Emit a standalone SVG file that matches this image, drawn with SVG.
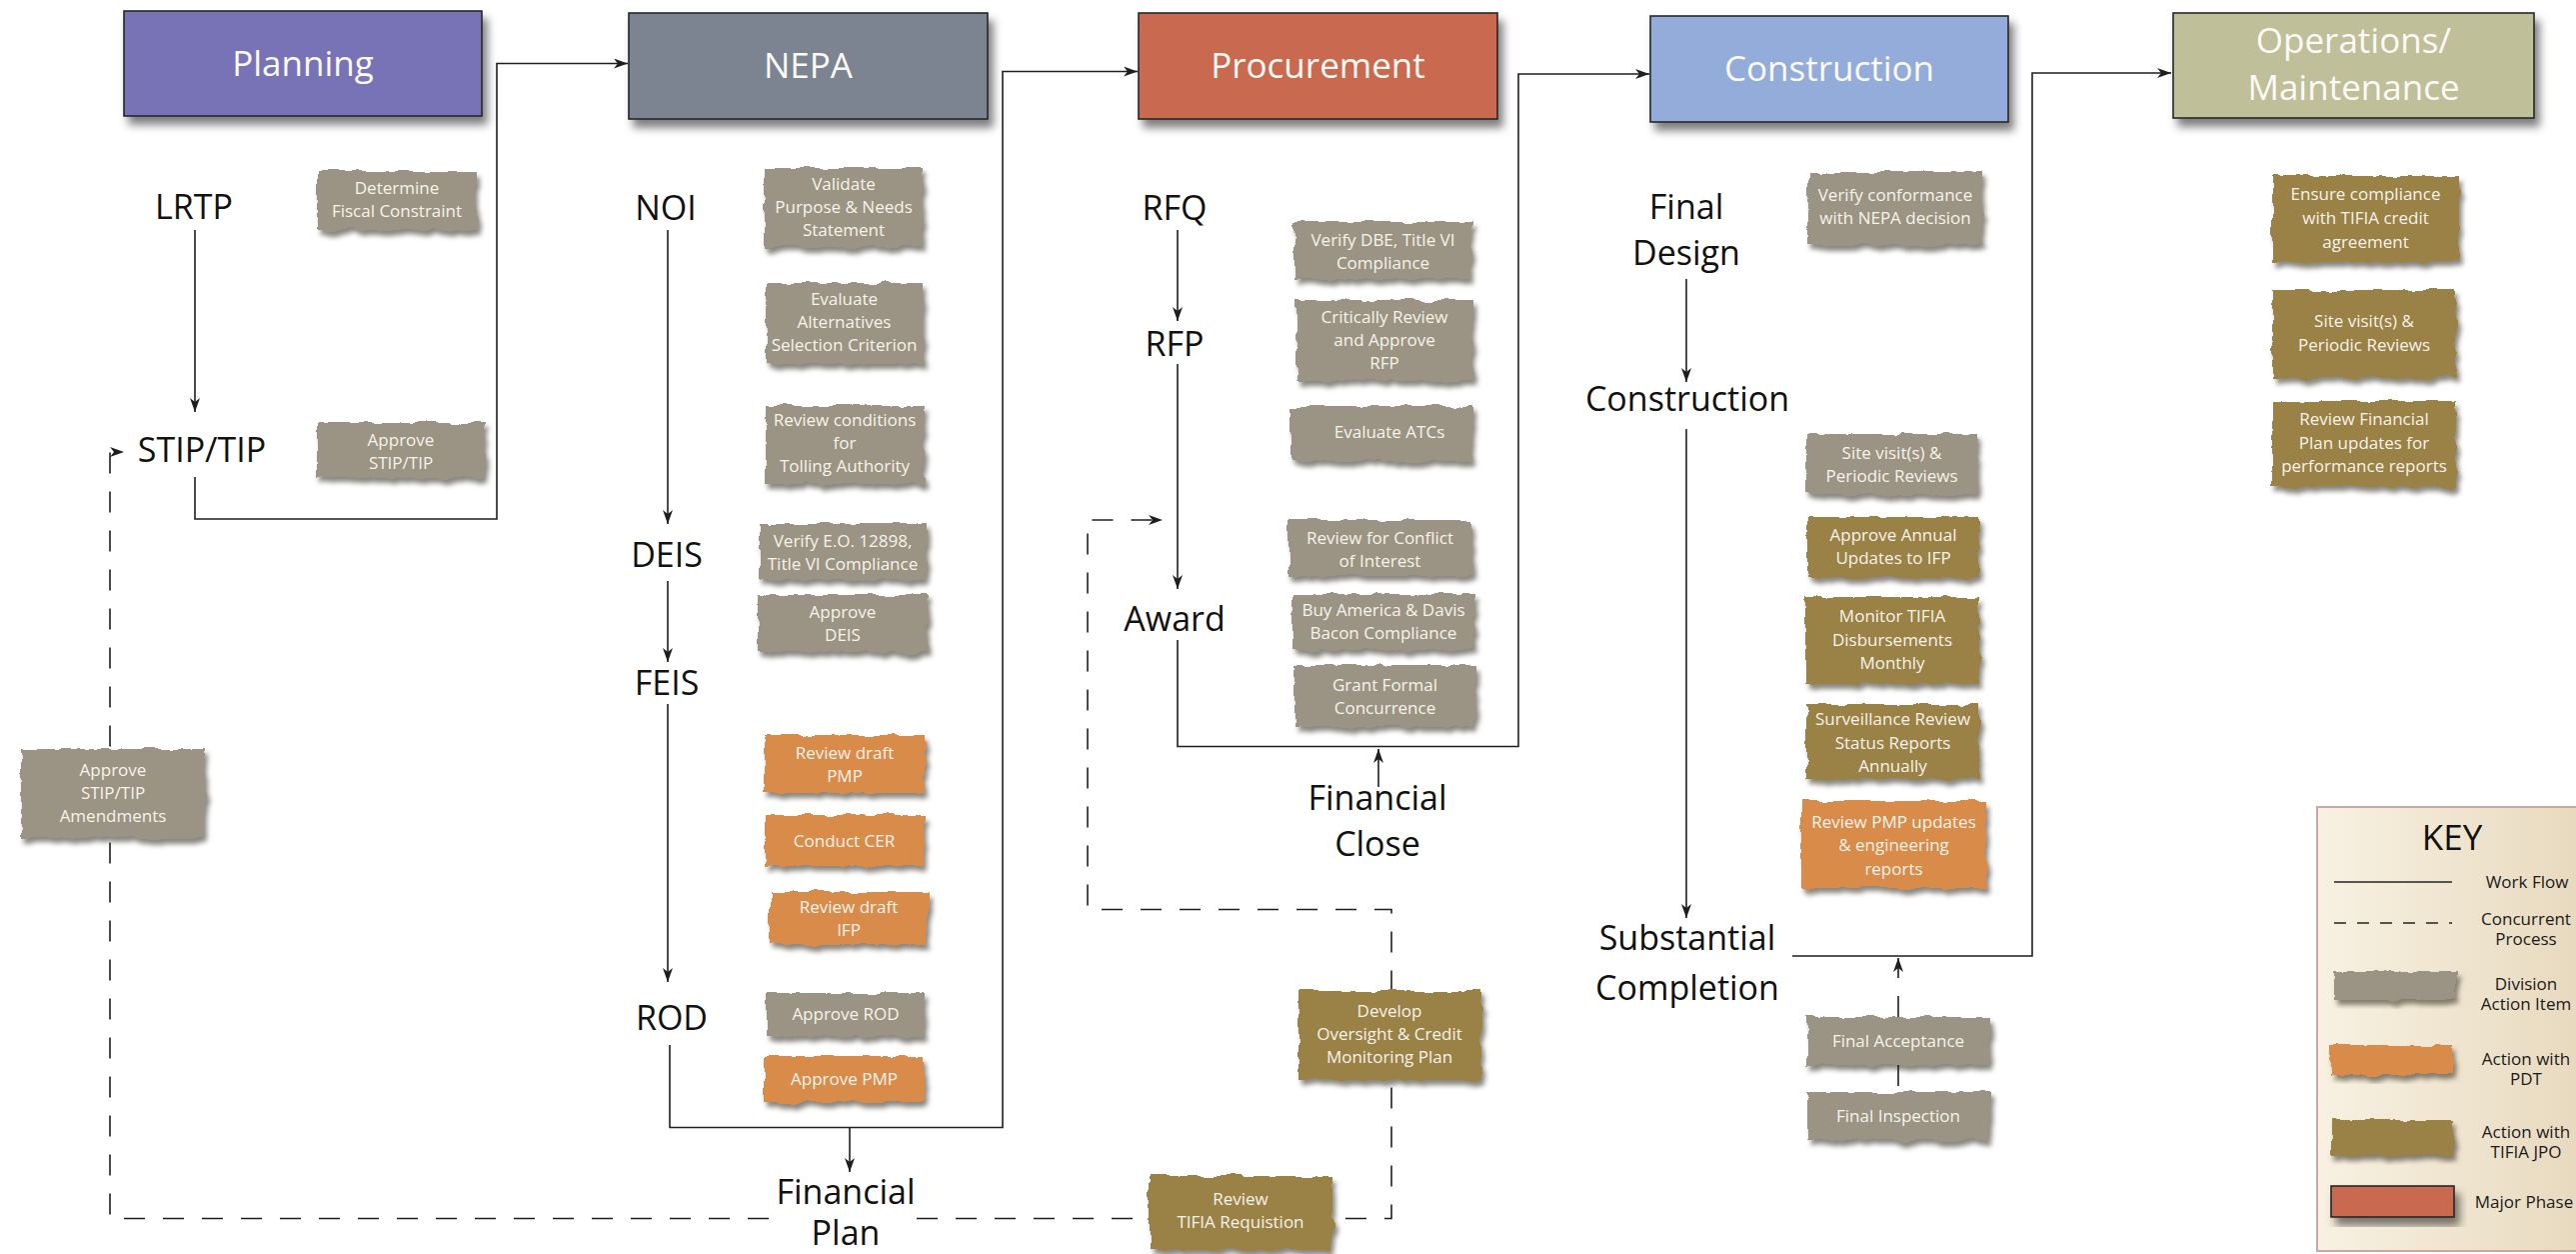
<svg xmlns="http://www.w3.org/2000/svg" width="2577" height="1254" viewBox="0 0 2577 1254">
<style>
text{font-family:'Open Sans','Noto Sans','DejaVu Sans',sans-serif;text-anchor:middle}
.ph{stroke:#262626;stroke-width:1.6;filter:url(#psh)}
.ac{filter:url(#torn)}
.g{fill:#9b9383}.o{fill:#d98b4a}.t{fill:#9a8145}
.pt{font-size:35px;fill:#fbfaf5}
.at{font-size:17px;fill:#f7f3ea}
.lb{font-size:34px;fill:#111}
.kt{font-size:17px;fill:#1a1a1a}
.wf{fill:none;stroke:#1e1e1e;stroke-width:1.6}
.cp{stroke-dasharray:21 18}
</style>
<defs>
<marker id="ah" markerUnits="userSpaceOnUse" markerWidth="14" markerHeight="10" refX="14" refY="5" orient="auto">
<path d="M0,0 L14,5 L0,10 L4,5 z" fill="#1e1e1e"/>
</marker>
<filter id="torn" x="-6%" y="-12%" width="116%" height="140%" color-interpolation-filters="sRGB">
<feTurbulence type="fractalNoise" baseFrequency="0.05 0.06" numOctaves="3" seed="7" result="n"/>
<feDisplacementMap in="SourceGraphic" in2="n" scale="8" xChannelSelector="R" yChannelSelector="G" result="d"/>
<feDropShadow in="d" dx="3" dy="5" stdDeviation="2.5" flood-color="#2a2418" flood-opacity="0.55"/>
</filter>
<filter id="psh" x="-5%" y="-10%" width="115%" height="140%">
<feDropShadow dx="5" dy="8" stdDeviation="4" flood-color="#000" flood-opacity="0.5"/>
</filter>
<linearGradient id="kg" x1="0" y1="0" x2="1" y2="0">
<stop offset="0" stop-color="#f8f1e2"/><stop offset="1" stop-color="#e6d8bc"/>
</linearGradient>
</defs>
<rect width="2577" height="1254" fill="#ffffff"/>

<g id="connectors">
<path class="wf" d="M195,230 V412" marker-end="url(#ah)"/>
<path class="wf" d="M195,477 V519 H497 V63.5 H628" marker-end="url(#ah)"/>
<path class="wf" d="M668,230 V524" marker-end="url(#ah)"/>
<path class="wf" d="M668,581 V662" marker-end="url(#ah)"/>
<path class="wf" d="M668,704 V982" marker-end="url(#ah)"/>
<path class="wf" d="M670,1045 V1127.5 H1003 V71.5 H1138" marker-end="url(#ah)"/>
<path class="wf" d="M850,1127.5 V1172" marker-end="url(#ah)"/>
<path class="wf" d="M1178,230 V321" marker-end="url(#ah)"/>
<path class="wf" d="M1178,364 V589" marker-end="url(#ah)"/>
<path class="wf" d="M1178,640 V746.5 H1519 V74 H1650" marker-end="url(#ah)"/>
<path class="wf" d="M1379,787 V749" marker-end="url(#ah)"/>
<path class="wf" d="M1687,279 V382" marker-end="url(#ah)"/>
<path class="wf" d="M1687,429 V918" marker-end="url(#ah)"/>
<path class="wf" d="M1793,956 H2033 V73 H2172" marker-end="url(#ah)"/>
<path class="wf cp" d="M769,1218.5 H110 V452 H124" marker-end="url(#ah)"/>
<path class="wf cp" d="M917,1218.5 H1392 V909.5 H1088 V520 H1163" marker-end="url(#ah)"/>
<path class="wf cp" d="M1899,1017 V958" marker-end="url(#ah)"/>
<path class="wf cp" d="M1899,1065 V1092"/>
</g>

<g id="phase-planning"><rect class="ph" x="124" y="11" width="358" height="105" fill="#7873b6"/><text class="pt" x="303" y="76">Planning</text></g>
<g id="phase-nepa"><rect class="ph" x="629" y="13" width="359" height="106" fill="#7b8491"/><text class="pt" x="808.5" y="78">NEPA</text></g>
<g id="phase-procurement"><rect class="ph" x="1139" y="13" width="359" height="106" fill="#c9694f"/><text class="pt" x="1318.5" y="78">Procurement</text></g>
<g id="phase-construction"><rect class="ph" x="1651" y="16" width="358" height="106" fill="#93acd9"/><text class="pt" x="1830" y="81">Construction</text></g>
<g id="phase-operations"><rect class="ph" x="2174" y="13" width="361" height="105" fill="#bfbf99"/><text class="pt" x="2354.5" y="53">Operations/</text><text class="pt" x="2354.5" y="99.5">Maintenance</text></g>

<g id="lbl-lrtp"><text class="lb" x="194" y="218.5">LRTP</text></g>
<g id="lbl-stip"><text class="lb" x="202" y="462">STIP/TIP</text></g>
<g id="lbl-noi"><text class="lb" x="666" y="220">NOI</text></g>
<g id="lbl-deis"><text class="lb" x="667" y="567">DEIS</text></g>
<g id="lbl-feis"><text class="lb" x="667" y="695">FEIS</text></g>
<g id="lbl-rod"><text class="lb" x="672" y="1030">ROD</text></g>
<g id="lbl-finplan"><text class="lb" x="846" y="1204">Financial</text><text class="lb" x="846" y="1245">Plan</text></g>
<g id="lbl-rfq"><text class="lb" x="1175" y="220">RFQ</text></g>
<g id="lbl-rfp"><text class="lb" x="1175" y="356">RFP</text></g>
<g id="lbl-award"><text class="lb" x="1175" y="630.5">Award</text></g>
<g id="lbl-finclose"><text class="lb" x="1378" y="810">Financial</text><text class="lb" x="1378" y="856">Close</text></g>
<g id="lbl-finaldesign"><text class="lb" x="1687" y="219">Final</text><text class="lb" x="1687" y="265">Design</text></g>
<g id="lbl-construction"><text class="lb" x="1688" y="411">Construction</text></g>
<g id="lbl-substantial"><text class="lb" x="1688" y="950">Substantial</text><text class="lb" x="1688" y="999.5">Completion</text></g>

<g id="a-fiscal"><rect class="ac g" x="317" y="171" width="160" height="59"/><text class="at" x="397" y="194">Determine</text><text class="at" x="397" y="217">Fiscal Constraint</text></g>
<g id="a-approvestip"><rect class="ac g" x="317" y="423" width="168" height="55"/><text class="at" x="401" y="446">Approve</text><text class="at" x="401" y="469">STIP/TIP</text></g>
<g id="a-amend"><rect class="ac g" x="21" y="749" width="184" height="89"/><text class="at" x="113" y="775.5">Approve</text><text class="at" x="113" y="798.5">STIP/TIP</text><text class="at" x="113" y="821.5">Amendments</text></g>

<g id="a-validate"><rect class="ac g" x="765" y="168" width="158" height="79"/><text class="at" x="844" y="189.5">Validate</text><text class="at" x="844" y="212.5">Purpose &amp; Needs</text><text class="at" x="844" y="235.5">Statement</text></g>
<g id="a-evaluate"><rect class="ac g" x="766" y="283" width="157" height="81"/><text class="at" x="844.5" y="304.5">Evaluate</text><text class="at" x="844.5" y="327.5">Alternatives</text><text class="at" x="844.5" y="350.5">Selection Criterion</text></g>
<g id="a-tolling"><rect class="ac g" x="766" y="406" width="158" height="78"/><text class="at" x="845" y="426">Review conditions</text><text class="at" x="845" y="449">for</text><text class="at" x="845" y="472">Tolling Authority</text></g>
<g id="a-eo"><rect class="ac g" x="760" y="524" width="166" height="56"/><text class="at" x="843" y="546.5">Verify E.O. 12898,</text><text class="at" x="843" y="569.5">Title VI Compliance</text></g>
<g id="a-deis"><rect class="ac g" x="758" y="595" width="170" height="57"/><text class="at" x="843" y="618">Approve</text><text class="at" x="843" y="641">DEIS</text></g>
<g id="a-pmp"><rect class="ac o" x="765" y="735" width="160" height="58"/><text class="at" x="845" y="758.5">Review draft</text><text class="at" x="845" y="781.5">PMP</text></g>
<g id="a-cer"><rect class="ac o" x="765" y="815" width="159" height="51"/><text class="at" x="844.5" y="846.5">Conduct CER</text></g>
<g id="a-ifp"><rect class="ac o" x="770" y="892" width="158" height="53"/><text class="at" x="849" y="913">Review draft</text><text class="at" x="849" y="936">IFP</text></g>
<g id="a-rod"><rect class="ac g" x="767" y="993" width="158" height="43"/><text class="at" x="846" y="1019.5">Approve ROD</text></g>
<g id="a-approvepmp"><rect class="ac o" x="765" y="1056" width="159" height="46"/><text class="at" x="844.5" y="1084.5">Approve PMP</text></g>

<g id="a-dbe"><rect class="ac g" x="1295" y="222" width="177" height="57"/><text class="at" x="1383.5" y="246">Verify DBE, Title VI</text><text class="at" x="1383.5" y="269">Compliance</text></g>
<g id="a-rfp"><rect class="ac g" x="1297" y="300" width="176" height="81"/><text class="at" x="1385" y="323">Critically Review</text><text class="at" x="1385" y="346">and Approve</text><text class="at" x="1385" y="369">RFP</text></g>
<g id="a-atc"><rect class="ac g" x="1291" y="406" width="182" height="55"/><text class="at" x="1390" y="438">Evaluate ATCs</text></g>
<g id="a-conflict"><rect class="ac g" x="1289" y="520" width="183" height="56"/><text class="at" x="1380.5" y="543.5">Review for Conflict</text><text class="at" x="1380.5" y="566.5">of Interest</text></g>
<g id="a-buyamerica"><rect class="ac g" x="1293" y="594" width="182" height="56"/><text class="at" x="1384" y="616">Buy America &amp; Davis</text><text class="at" x="1384" y="639">Bacon Compliance</text></g>
<g id="a-concur"><rect class="ac g" x="1295" y="665" width="181" height="62"/><text class="at" x="1385.5" y="691">Grant Formal</text><text class="at" x="1385.5" y="714">Concurrence</text></g>
<g id="a-develop"><rect class="ac t" x="1299" y="991" width="183" height="89"/><text class="at" x="1390" y="1016.5">Develop</text><text class="at" x="1390" y="1039.5">Oversight &amp; Credit</text><text class="at" x="1390" y="1062.5">Monitoring Plan</text></g>
<g id="a-requisition"><rect class="ac t" x="1150" y="1176" width="183" height="74"/><text class="at" x="1241" y="1205">Review</text><text class="at" x="1241" y="1228">TIFIA Requistion</text></g>

<g id="a-conformance"><rect class="ac g" x="1809" y="172" width="174" height="73"/><text class="at" x="1896" y="201">Verify  conformance</text><text class="at" x="1896" y="224">with NEPA decision</text></g>
<g id="a-sitevisit1"><rect class="ac g" x="1807" y="434" width="171" height="61"/><text class="at" x="1892.5" y="459">Site visit(s) &amp;</text><text class="at" x="1892.5" y="482">Periodic Reviews</text></g>
<g id="a-annual"><rect class="ac t" x="1808" y="517" width="172" height="61"/><text class="at" x="1894" y="541">Approve Annual</text><text class="at" x="1894" y="564">Updates to IFP</text></g>
<g id="a-monitor"><rect class="ac t" x="1806" y="597" width="174" height="87"/><text class="at" x="1893" y="622">Monitor  TIFIA</text><text class="at" x="1893" y="645.5">Disbursements</text><text class="at" x="1893" y="669">Monthly</text></g>
<g id="a-surveil"><rect class="ac t" x="1807" y="704" width="173" height="75"/><text class="at" x="1893.5" y="725">Surveillance  Review</text><text class="at" x="1893.5" y="748.5">Status Reports</text><text class="at" x="1893.5" y="772">Annually</text></g>
<g id="a-pmpupdates"><rect class="ac o" x="1802" y="801" width="185" height="87"/><text class="at" x="1894.5" y="827.5">Review PMP updates</text><text class="at" x="1894.5" y="851">&amp; engineering</text><text class="at" x="1894.5" y="874.5">reports</text></g>
<g id="a-acceptance"><rect class="ac g" x="1808" y="1017" width="182" height="48"/><text class="at" x="1899" y="1047">Final Acceptance</text></g>
<g id="a-inspection"><rect class="ac g" x="1808" y="1092" width="182" height="48"/><text class="at" x="1899" y="1122">Final Inspection</text></g>

<g id="a-ensure"><rect class="ac t" x="2273" y="176" width="187" height="86"/><text class="at" x="2366.5" y="200">Ensure compliance</text><text class="at" x="2366.5" y="224">with TIFIA credit</text><text class="at" x="2366.5" y="248">agreement</text></g>
<g id="a-sitevisit2"><rect class="ac t" x="2273" y="290" width="184" height="88"/><text class="at" x="2365" y="327">Site visit(s) &amp;</text><text class="at" x="2365" y="350.5">Periodic Reviews</text></g>
<g id="a-finplanupd"><rect class="ac t" x="2273" y="401" width="184" height="86"/><text class="at" x="2365" y="425">Review Financial</text><text class="at" x="2365" y="448.5">Plan updates for</text><text class="at" x="2365" y="472">performance reports</text></g>

<g id="key">
<rect x="2318" y="807" width="280" height="444" fill="url(#kg)" stroke="#c9a7a5" stroke-width="2"/>
<text x="2453" y="850" style="font-size:35px;fill:#111">KEY</text>
<line x1="2335" y1="882" x2="2453" y2="882" stroke="#222" stroke-width="1.6"/>
<text class="kt" x="2528" y="888">Work Flow</text>
<line x1="2335" y1="923" x2="2453" y2="923" stroke="#222" stroke-width="1.6" stroke-dasharray="12 11"/>
<text class="kt" x="2527" y="925">Concurrent</text><text class="kt" x="2527" y="945">Process</text>
<rect class="ac g" x="2335" y="971" width="122" height="29"/>
<text class="kt" x="2527" y="990">Division</text><text class="kt" x="2527" y="1010">Action Item</text>
<rect class="ac o" x="2332" y="1045" width="122" height="30"/>
<text class="kt" x="2527" y="1065">Action with</text><text class="kt" x="2527" y="1085">PDT</text>
<rect class="ac t" x="2332" y="1120" width="122" height="35"/>
<text class="kt" x="2527" y="1138">Action with</text><text class="kt" x="2527" y="1158">TIFIA JPO</text>
<rect class="ph" x="2332" y="1186" width="123" height="31" fill="#c9694f"/>
<text class="kt" x="2525" y="1208">Major Phase</text>
</g>
</svg>
